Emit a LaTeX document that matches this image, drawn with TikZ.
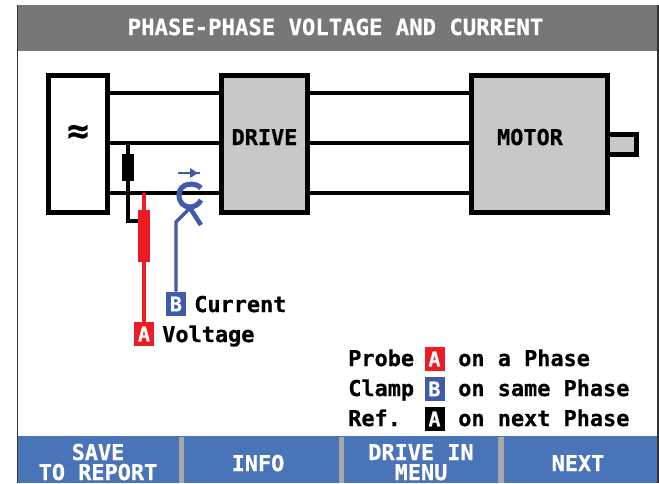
\documentclass[tikz,border=0pt]{standalone}
\usepackage{fontspec}
\setmainfont{DejaVu Sans Mono}[BoldFont={DejaVu Sans Mono Bold},BoldFeatures={FakeBold=0.6}]
\definecolor{titlegray}{HTML}{777777}
\definecolor{boxgray}{HTML}{C8C8C8}
\definecolor{barblue}{HTML}{4A74B8}
\definecolor{sepgray}{HTML}{A8A8A8}
\definecolor{probered}{HTML}{ED1C24}
\definecolor{clampblue}{HTML}{3F5BA9}
\tikzset{
  pxfont/.style={font=\bfseries\fontsize{16.4pt}{20pt}\selectfont},
  label/.style={pxfont,inner sep=0pt,anchor=base west,text=black},
  btntext/.style={pxfont,inner sep=0pt,anchor=base,text=white},
  block/.style={draw=black,line width=3.75pt,rectangle,inner sep=0pt,outer sep=0pt},
  wire/.style={draw=black,line width=2.7pt},
  badge/.style={rectangle,inner sep=0pt,minimum width=15pt,minimum height=18pt,text=white,font=\bfseries\fontsize{15pt}{18pt}\selectfont},
  sep/.style={fill=sepgray,draw=none},
}
\begin{document}
\begin{tikzpicture}[x=0.75pt,y=-0.75pt]
\useasboundingbox (0,0) rectangle (659,483);
\fill[white] (0,0) rectangle (659,483);
% frame and bars
\fill[titlegray] (18,5) rectangle (658,51);
\fill[barblue] (18,436) rectangle (658,483);
\draw[black!80,line width=0.9pt] (17.5,5) -- (17.5,483);
\draw[black!80,line width=0.9pt] (658,5) -- (658,483);
\fill[sep] (179,437) rectangle (184,483);
\fill[sep] (339,437) rectangle (344,483);
\fill[sep] (498,437) rectangle (504,483);
\node[btntext,font=\bfseries\fontsize{16.7pt}{20pt}\selectfont] (title) at (335.5,35) {PHASE-PHASE VOLTAGE AND CURRENT};
\node[btntext] (b1a) at (98,460) {SAVE};
\node[btntext] (b1b) at (98,480) {TO REPORT};
\node[btntext] (b2) at (258,471) {INFO};
\node[btntext] (b3a) at (421,460) {DRIVE IN};
\node[btntext] (b3b) at (421,480) {MENU};
\node[btntext] (b4) at (578,471) {NEXT};
% blocks
\node[block,fill=white,minimum width=44.25pt,minimum height=102.75pt] (source) at (78,144) {};
\node[block,fill=boxgray,minimum width=64.5pt,minimum height=102.75pt] (drive) at (264.5,144) {};
\node[block,fill=boxgray,minimum width=24pt,minimum height=15pt] (shaft) at (620.5,144.5) {};
\node[block,fill=boxgray,minimum width=102pt,minimum height=102.75pt] (motor) at (539.5,144) {};
\node[inner sep=0pt,font=\bfseries\fontsize{27pt}{27pt}\selectfont] (approx) at (78,134) {≈};
\node[label,anchor=base] (drivetext) at (264.5,145) {DRIVE};
\node[label,anchor=base] (motortext) at (530,145) {MOTOR};
% wires
\coordinate (sa) at (source.east |- 0,93);
\coordinate (sb) at (source.east |- 0,143);
\coordinate (sc) at (source.east |- 0,193);
\draw[wire] (sa) -- (drive.west |- sa);
\draw[wire] (sb) -- (drive.west |- sb);
\draw[wire] (sc) -- (drive.west |- sc);
\draw[wire] (drive.east |- sa) -- (motor.west |- sa);
\draw[wire] (drive.east |- sb) -- (motor.west |- sb);
\draw[wire] (drive.east |- sc) -- (motor.west |- sc);
% reference lead
\node[rectangle,fill=black,inner sep=0pt,minimum width=9pt,minimum height=20.25pt] (refbody) at (128,167.5) {};
\coordinate (reftop) at (128,143);
\coordinate (refknee) at (128,221);
% voltage probe
\node[rectangle,fill=probered,inner sep=0pt,minimum width=9pt,minimum height=39pt] (probebody) at (144,236) {};
\coordinate (probetop) at (144,193);
\draw[wire,line width=2.4pt] (reftop) -- (refknee) -- (probebody.west |- refknee);
\node[badge,fill=probered] (badgeA) at (144,334) {A};
\draw[draw=probered,line width=2.6pt] (probetop) -- (badgeA.north);
% clamp
\node[badge,fill=clampblue] (badgeB) at (176,304) {B};
\coordinate (clampleg) at (176,222);
\coordinate (clampcross) at (190,208);
\coordinate (arrowL) at (178,173);
\coordinate (arrowR) at (200,173);
\draw[draw=clampblue,line width=2.6pt] (badgeB.north) -- (clampleg) -- (clampcross);
\draw[draw=clampblue,line width=3.4pt] (clampcross) -- (201,225);
\draw[draw=clampblue,line width=3.8pt] (201,188) .. controls (196,182) and (179,182) .. (179,195) .. controls (179,203) and (184,207) .. (190,207) .. controls (195,207) and (199,204) .. (201,200);
\draw[draw=clampblue,line width=1.8pt] (arrowL) -- (arrowR);
\fill[clampblue] (190,168) -- (198,173) -- (190,178) -- cycle;
% labels
\node[label] (lcurrent) at (194,312) {Current};
\node[label] (lvoltage) at (162,342) {Voltage};
\node[label] (p1) at (348,366) {Probe};
\node[badge,fill=probered] (k1) at (434.5,359) {A};
\node[label] (p1b) at (458,366) {on a Phase};
\node[label] (p2) at (348,396) {Clamp};
\node[badge,fill=clampblue] (k2) at (434.5,389) {B};
\node[label] (p2b) at (458,396) {on same Phase};
\node[label] (p3) at (348,426) {Ref.};
\node[badge,fill=black] (k3) at (434.5,419) {A};
\node[label] (p3b) at (458,426) {on next Phase};
\end{tikzpicture}
\end{document}
